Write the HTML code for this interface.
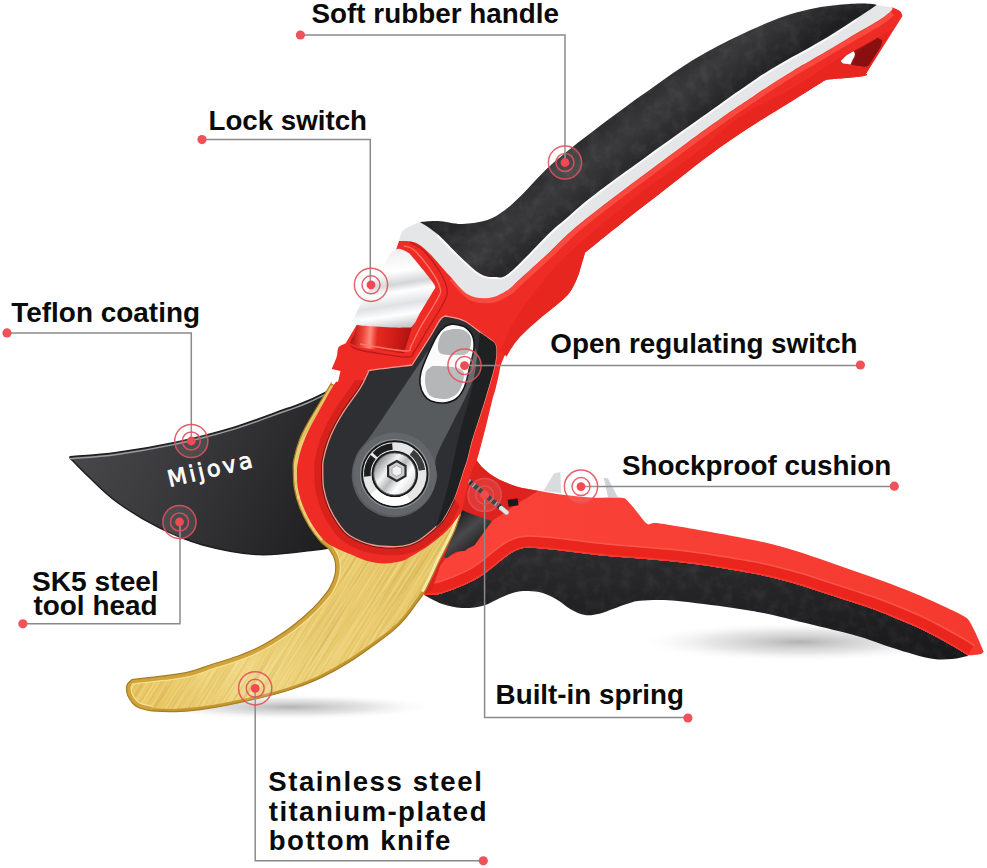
<!DOCTYPE html>
<html lang="en"><head><meta charset="utf-8"><title>Pruning shears features</title>
<style>
html,body{margin:0;padding:0;background:#fff}
body{width:987px;height:868px;overflow:hidden}
svg{display:block}
text{font-family:"Liberation Sans",Arial,sans-serif;font-weight:bold;fill:#0b0b0b}
text.logo{font-family:"DejaVu Sans","Liberation Sans",sans-serif;font-weight:normal;fill:#fff}
</style></head><body>
<svg width="987" height="868" viewBox="0 0 987 868">
<defs>
<radialGradient id="sh1" cx="50%" cy="50%" r="50%"><stop offset="0" stop-color="#9a9a9a" stop-opacity=".75"/><stop offset=".55" stop-color="#bdbdbd" stop-opacity=".38"/><stop offset="1" stop-color="#fff" stop-opacity="0"/></radialGradient>
<linearGradient id="gGold" x1="130" y1="700" x2="450" y2="520" gradientUnits="userSpaceOnUse"><stop offset="0" stop-color="#e9c660"/><stop offset=".3" stop-color="#f0d57e"/><stop offset=".6" stop-color="#ecce70"/><stop offset="1" stop-color="#e6c463"/></linearGradient>
<linearGradient id="gBlade" x1="80" y1="440" x2="330" y2="560" gradientUnits="userSpaceOnUse"><stop offset="0" stop-color="#48484a"/><stop offset=".35" stop-color="#3a3a3d"/><stop offset=".7" stop-color="#2a2a2d"/><stop offset="1" stop-color="#1d1d1f"/></linearGradient>
<linearGradient id="gRub" x1="560" y1="140" x2="612" y2="205" gradientUnits="userSpaceOnUse"><stop offset="0" stop-color="#262628"/><stop offset=".45" stop-color="#39393b"/><stop offset="1" stop-color="#1f1f21"/></linearGradient>
<linearGradient id="gWht" x1="640" y1="160" x2="652" y2="176" gradientUnits="userSpaceOnUse" spreadMethod="pad"><stop offset="0" stop-color="#f2f3f4"/><stop offset=".5" stop-color="#e3e5e7"/><stop offset="1" stop-color="#f0f0f1"/></linearGradient>
<linearGradient id="gLock" x1="380" y1="250" x2="392" y2="328" gradientUnits="userSpaceOnUse"><stop offset="0" stop-color="#ededee"/><stop offset=".3" stop-color="#ffffff"/><stop offset=".46" stop-color="#d4d5d7"/><stop offset=".56" stop-color="#ffffff"/><stop offset=".72" stop-color="#e0e1e3"/><stop offset=".85" stop-color="#ffffff"/><stop offset="1" stop-color="#c9cacc"/></linearGradient>
<linearGradient id="gTube" x1="352" y1="335" x2="412" y2="340" gradientUnits="userSpaceOnUse"><stop offset="0" stop-color="#b01512"/><stop offset=".18" stop-color="#f0453a"/><stop offset=".3" stop-color="#ff8a7a"/><stop offset=".42" stop-color="#e62a22"/><stop offset=".7" stop-color="#d01c18"/><stop offset="1" stop-color="#a81210"/></linearGradient>
<linearGradient id="gDisc" x1="378" y1="460" x2="414" y2="488" gradientUnits="userSpaceOnUse"><stop offset="0" stop-color="#8b8c8e"/><stop offset=".3" stop-color="#f4f4f4"/><stop offset=".5" stop-color="#b9babc"/><stop offset=".7" stop-color="#ffffff"/><stop offset="1" stop-color="#d6d6d6"/></linearGradient>
<linearGradient id="gRecess" x1="450" y1="515" x2="480" y2="550" gradientUnits="userSpaceOnUse"><stop offset="0" stop-color="#151516"/><stop offset=".5" stop-color="#4a4a4c"/><stop offset="1" stop-color="#1a1a1b"/></linearGradient>
<linearGradient id="gLFace" x1="500" y1="0" x2="980" y2="0" gradientUnits="userSpaceOnUse"><stop offset="0" stop-color="#fa4238"/><stop offset=".4" stop-color="#f83f35"/><stop offset="1" stop-color="#f5392f"/></linearGradient>
<linearGradient id="gLRub" x1="0" y1="560" x2="0" y2="660" gradientUnits="userSpaceOnUse"><stop offset="0" stop-color="#2a2a2c"/><stop offset="1" stop-color="#18181a"/></linearGradient>
<filter id="fBrush" x="0" y="0" width="100%" height="100%" color-interpolation-filters="sRGB"><feTurbulence type="fractalNoise" baseFrequency="0.012 0.55" numOctaves="2" seed="7" result="n"/><feColorMatrix in="n" type="matrix" values="0 0 0 0 1  0 0 0 0 .97  0 0 0 0 .78  1.6 0 0 0 -.62"/></filter>
<filter id="fBrushD" x="0" y="0" width="100%" height="100%" color-interpolation-filters="sRGB"><feTurbulence type="fractalNoise" baseFrequency="0.012 0.5" numOctaves="2" seed="21" result="n"/><feColorMatrix in="n" type="matrix" values="0 0 0 0 .66  0 0 0 0 .48  0 0 0 0 .12  1.6 0 0 0 -.66"/></filter>
<filter id="fRub" x="0" y="0" width="100%" height="100%" color-interpolation-filters="sRGB"><feTurbulence type="fractalNoise" baseFrequency="0.09" numOctaves="3" seed="4"/><feColorMatrix type="matrix" values="0 0 0 0 1  0 0 0 0 1  0 0 0 0 1  1.5 0 0 0 -.6"/></filter>
</defs>
<rect width="987" height="868" fill="#fff"/>
<ellipse cx="800" cy="642" rx="165" ry="20" fill="url(#sh1)"/>
<ellipse cx="290" cy="707" rx="150" ry="13" fill="url(#sh1)"/>
<path d="M423.8 594.8C426.8 594.6 433.4 595.7 441.5 593.4C449.6 591.1 464.8 584.7 472.5 581C480.2 577.3 483.4 574.3 488 571C492.6 567.7 495.6 564.5 500 561.2C504.4 557.9 509.5 553.5 514.2 551.3C518.9 549 521.3 547.9 528.4 547.7C535.5 547.5 547.3 549 556.7 549.9C566.1 550.8 575.6 552.3 585 553.4C594.4 554.5 603.8 555.6 613 556.5C622.3 557.4 631.2 557.9 640.4 558.6C649.7 559.4 659 560 668.4 561C677.8 561.9 687.3 563 696.7 564.3C706.1 565.6 715.8 567.1 724.8 568.5C733.8 570 742.7 571.5 750.7 573.1C758.7 574.6 764.8 575.9 772.8 577.8C780.8 579.8 789.7 582.2 798.6 584.8C807.6 587.4 817.6 590.9 826.3 593.7C835.1 596.5 843.9 599.4 851.1 601.8C858.4 604.2 863 605.6 869.8 608.1C876.5 610.5 884 613.3 891.6 616.4C899.2 619.5 907.7 623 915.5 626.6C923.3 630.2 931.3 634.3 938.4 638.1C945.5 641.9 953.3 646.4 958.2 649.3C963.1 652.2 966.4 654.4 968 655.4L968 656C965.3 656.5 957.7 658.5 952 659C946.3 659.5 940.2 659.8 933.9 659C927.6 658.2 921.1 656.3 914.1 654.4C907 652.5 898.8 649.9 891.4 647.5C884.1 645.1 876.5 642.1 869.8 639.9C863 637.6 858.4 636.2 851.1 634.2C843.9 632.3 835.1 630.2 826.3 628C817.6 625.9 807.6 623.5 798.6 621.4C789.7 619.2 780.8 616.8 772.8 615C764.8 613.2 758.7 612.1 750.7 610.7C742.7 609.4 733.8 608.1 724.8 606.8C715.8 605.6 706.1 604.4 696.7 603.3C687.3 602.2 677.9 600.7 668.4 600.3C658.9 599.9 646.8 600.2 640 600.8C633.2 601.4 632.1 602.5 627.7 603.8C623.3 605.1 618.2 607.1 613.5 608.7C608.8 610.4 604 612.7 599.3 613.7C594.5 614.8 589.7 615.7 585 615C580.3 614.3 575.7 612 571 609.4C566.3 606.8 561.4 602.2 556.7 599.5C552 596.8 547.3 594.4 542.6 593C537.9 591.6 533.1 591.1 528.4 591C523.7 590.9 518.9 591.2 514.2 592.4C509.5 593.6 505.2 595.8 500 598C494.8 600.2 489.3 604.1 483 605.8C476.7 607.5 468.9 608.4 462 608C455.1 607.6 447.9 605.9 441.5 603.7C435.1 601.5 426.8 596.3 423.8 594.8Z" fill="url(#gLRub)"/>
<clipPath id="cLb"><path d="M423.8 594.8C426.8 594.6 433.4 595.7 441.5 593.4C449.6 591.1 464.8 584.7 472.5 581C480.2 577.3 483.4 574.3 488 571C492.6 567.7 495.6 564.5 500 561.2C504.4 557.9 509.5 553.5 514.2 551.3C518.9 549 521.3 547.9 528.4 547.7C535.5 547.5 547.3 549 556.7 549.9C566.1 550.8 575.6 552.3 585 553.4C594.4 554.5 603.8 555.6 613 556.5C622.3 557.4 631.2 557.9 640.4 558.6C649.7 559.4 659 560 668.4 561C677.8 561.9 687.3 563 696.7 564.3C706.1 565.6 715.8 567.1 724.8 568.5C733.8 570 742.7 571.5 750.7 573.1C758.7 574.6 764.8 575.9 772.8 577.8C780.8 579.8 789.7 582.2 798.6 584.8C807.6 587.4 817.6 590.9 826.3 593.7C835.1 596.5 843.9 599.4 851.1 601.8C858.4 604.2 863 605.6 869.8 608.1C876.5 610.5 884 613.3 891.6 616.4C899.2 619.5 907.7 623 915.5 626.6C923.3 630.2 931.3 634.3 938.4 638.1C945.5 641.9 953.3 646.4 958.2 649.3C963.1 652.2 966.4 654.4 968 655.4L968 656C965.3 656.5 957.7 658.5 952 659C946.3 659.5 940.2 659.8 933.9 659C927.6 658.2 921.1 656.3 914.1 654.4C907 652.5 898.8 649.9 891.4 647.5C884.1 645.1 876.5 642.1 869.8 639.9C863 637.6 858.4 636.2 851.1 634.2C843.9 632.3 835.1 630.2 826.3 628C817.6 625.9 807.6 623.5 798.6 621.4C789.7 619.2 780.8 616.8 772.8 615C764.8 613.2 758.7 612.1 750.7 610.7C742.7 609.4 733.8 608.1 724.8 606.8C715.8 605.6 706.1 604.4 696.7 603.3C687.3 602.2 677.9 600.7 668.4 600.3C658.9 599.9 646.8 600.2 640 600.8C633.2 601.4 632.1 602.5 627.7 603.8C623.3 605.1 618.2 607.1 613.5 608.7C608.8 610.4 604 612.7 599.3 613.7C594.5 614.8 589.7 615.7 585 615C580.3 614.3 575.7 612 571 609.4C566.3 606.8 561.4 602.2 556.7 599.5C552 596.8 547.3 594.4 542.6 593C537.9 591.6 533.1 591.1 528.4 591C523.7 590.9 518.9 591.2 514.2 592.4C509.5 593.6 505.2 595.8 500 598C494.8 600.2 489.3 604.1 483 605.8C476.7 607.5 468.9 608.4 462 608C455.1 607.6 447.9 605.9 441.5 603.7C435.1 601.5 426.8 596.3 423.8 594.8Z"/></clipPath><g clip-path="url(#cLb)"><rect x="420" y="540" width="560" height="125" filter="url(#fRub)" opacity=".08"/></g>
<clipPath id="cLred"><path d="M476 459.4C476.9 460.6 479.3 464.3 481.6 466.7C483.9 469.1 487.1 471.9 490 474C492.9 476.1 495.7 477.9 499 479.6C502.3 481.3 506.5 482.9 510 484.2C513.5 485.5 514.8 486.4 520 487.6C525.2 488.8 534.2 490 541.3 491.2C548.4 492.4 554.3 493.6 562.6 494.7C570.9 495.8 582 497 591 497.5C600 498 610.8 497.4 616.5 497.5C622.2 497.6 623.6 498.2 625 498.3C626.4 499.8 630.2 503.6 633.5 507.5C636.8 511.4 642.2 518.9 644.8 521.7C647.4 524.5 648.3 524 649 524.5C650.8 524.3 650.2 522.3 660 523.5C669.8 524.7 693.3 529 707.7 531.5C722.2 534 736 536.6 746.7 538.7C757.5 540.8 763.8 542 772.4 544.2C781.1 546.3 789.6 549 798.6 551.8C807.7 554.7 817.3 558.1 826.7 561.3C836.1 564.5 845.5 567.8 855.1 571.2C864.7 574.6 874.5 578 884.2 581.6C894 585.3 904.5 589.3 913.7 593.1C923 596.9 931.4 600.7 939.8 604.6C948.2 608.5 959.2 613.5 964.3 616.5C969.4 619.5 969.3 621.6 970.3 622.6C971.3 624.6 974.2 629.9 976.4 634.7C978.6 639.6 982.5 648.9 983.7 651.7C983.1 652.1 982.6 653.6 980 654.2C977.4 654.8 970 655.2 968 655.4C966.4 654.4 963.1 652.2 958.2 649.3C953.3 646.4 945.5 641.9 938.4 638.1C931.3 634.3 923.3 630.2 915.5 626.6C907.7 623 899.2 619.5 891.6 616.4C884 613.3 876.5 610.5 869.8 608.1C863 605.6 858.4 604.2 851.1 601.8C843.9 599.4 835.1 596.5 826.3 593.7C817.6 590.9 807.6 587.4 798.6 584.8C789.7 582.2 780.8 579.8 772.8 577.8C764.8 575.9 758.7 574.6 750.7 573.1C742.7 571.5 733.8 570 724.8 568.5C715.8 567.1 706.1 565.6 696.7 564.3C687.3 563 677.8 561.9 668.4 561C659 560 649.7 559.4 640.4 558.6C631.2 557.9 622.3 557.4 613 556.5C603.8 555.6 594.4 554.5 585 553.4C575.6 552.3 566.1 550.8 556.7 549.9C547.3 549 535.5 547.5 528.4 547.7C521.3 547.9 518.9 549 514.2 551.3C509.5 553.5 504.4 557.9 500 561.2C495.6 564.5 492.6 567.7 488 571C483.4 574.3 480.2 577.3 472.5 581C464.8 584.7 449.6 591.1 441.5 593.4C433.4 595.7 426.8 594.6 423.8 594.8C426.5 589 434.8 575.8 440 560C445.2 544.2 450.8 516.7 455 500C459.2 483.3 463.3 466.7 465 460L476 459.4Z"/></clipPath>
<path d="M476 459.4C476.9 460.6 479.3 464.3 481.6 466.7C483.9 469.1 487.1 471.9 490 474C492.9 476.1 495.7 477.9 499 479.6C502.3 481.3 506.5 482.9 510 484.2C513.5 485.5 514.8 486.4 520 487.6C525.2 488.8 534.2 490 541.3 491.2C548.4 492.4 554.3 493.6 562.6 494.7C570.9 495.8 582 497 591 497.5C600 498 610.8 497.4 616.5 497.5C622.2 497.6 623.6 498.2 625 498.3C626.4 499.8 630.2 503.6 633.5 507.5C636.8 511.4 642.2 518.9 644.8 521.7C647.4 524.5 648.3 524 649 524.5C650.8 524.3 650.2 522.3 660 523.5C669.8 524.7 693.3 529 707.7 531.5C722.2 534 736 536.6 746.7 538.7C757.5 540.8 763.8 542 772.4 544.2C781.1 546.3 789.6 549 798.6 551.8C807.7 554.7 817.3 558.1 826.7 561.3C836.1 564.5 845.5 567.8 855.1 571.2C864.7 574.6 874.5 578 884.2 581.6C894 585.3 904.5 589.3 913.7 593.1C923 596.9 931.4 600.7 939.8 604.6C948.2 608.5 959.2 613.5 964.3 616.5C969.4 619.5 969.3 621.6 970.3 622.6C971.3 624.6 974.2 629.9 976.4 634.7C978.6 639.6 982.5 648.9 983.7 651.7C983.1 652.1 982.6 653.6 980 654.2C977.4 654.8 970 655.2 968 655.4C966.4 654.4 963.1 652.2 958.2 649.3C953.3 646.4 945.5 641.9 938.4 638.1C931.3 634.3 923.3 630.2 915.5 626.6C907.7 623 899.2 619.5 891.6 616.4C884 613.3 876.5 610.5 869.8 608.1C863 605.6 858.4 604.2 851.1 601.8C843.9 599.4 835.1 596.5 826.3 593.7C817.6 590.9 807.6 587.4 798.6 584.8C789.7 582.2 780.8 579.8 772.8 577.8C764.8 575.9 758.7 574.6 750.7 573.1C742.7 571.5 733.8 570 724.8 568.5C715.8 567.1 706.1 565.6 696.7 564.3C687.3 563 677.8 561.9 668.4 561C659 560 649.7 559.4 640.4 558.6C631.2 557.9 622.3 557.4 613 556.5C603.8 555.6 594.4 554.5 585 553.4C575.6 552.3 566.1 550.8 556.7 549.9C547.3 549 535.5 547.5 528.4 547.7C521.3 547.9 518.9 549 514.2 551.3C509.5 553.5 504.4 557.9 500 561.2C495.6 564.5 492.6 567.7 488 571C483.4 574.3 480.2 577.3 472.5 581C464.8 584.7 449.6 591.1 441.5 593.4C433.4 595.7 426.8 594.6 423.8 594.8C426.5 589 434.8 575.8 440 560C445.2 544.2 450.8 516.7 455 500C459.2 483.3 463.3 466.7 465 460L476 459.4Z" fill="url(#gLFace)"/>
<g clip-path="url(#cLred)"><path d="M968 655.4C966.4 654.4 963.1 652.2 958.2 649.3C953.3 646.4 945.5 641.9 938.4 638.1C931.3 634.3 923.3 630.2 915.5 626.6C907.7 623 899.2 619.5 891.6 616.4C884 613.3 876.5 610.5 869.8 608.1C863 605.6 858.4 604.2 851.1 601.8C843.9 599.4 835.1 596.5 826.3 593.7C817.6 590.9 807.6 587.4 798.6 584.8C789.7 582.2 780.8 579.8 772.8 577.8C764.8 575.9 758.7 574.6 750.7 573.1C742.7 571.5 733.8 570 724.8 568.5C715.8 567.1 706.1 565.6 696.7 564.3C687.3 563 677.8 561.9 668.4 561C659 560 649.7 559.4 640.4 558.6C631.2 557.9 622.3 557.4 613 556.5C603.8 555.6 594.4 554.5 585 553.4C575.6 552.3 566.1 550.8 556.7 549.9C547.3 549 535.5 547.5 528.4 547.7C521.3 547.9 518.9 549 514.2 551.3C509.5 553.5 504.4 557.9 500 561.2C495.6 564.5 492.6 567.7 488 571C483.4 574.3 480.2 577.3 472.5 581C464.8 584.7 449.6 591.1 441.5 593.4C433.4 595.7 426.8 594.6 423.8 594.8" fill="none" stroke="#f9564b" stroke-width="25"/><path d="M968 655.4C966.4 654.4 963.1 652.2 958.2 649.3C953.3 646.4 945.5 641.9 938.4 638.1C931.3 634.3 923.3 630.2 915.5 626.6C907.7 623 899.2 619.5 891.6 616.4C884 613.3 876.5 610.5 869.8 608.1C863 605.6 858.4 604.2 851.1 601.8C843.9 599.4 835.1 596.5 826.3 593.7C817.6 590.9 807.6 587.4 798.6 584.8C789.7 582.2 780.8 579.8 772.8 577.8C764.8 575.9 758.7 574.6 750.7 573.1C742.7 571.5 733.8 570 724.8 568.5C715.8 567.1 706.1 565.6 696.7 564.3C687.3 563 677.8 561.9 668.4 561C659 560 649.7 559.4 640.4 558.6C631.2 557.9 622.3 557.4 613 556.5C603.8 555.6 594.4 554.5 585 553.4C575.6 552.3 566.1 550.8 556.7 549.9C547.3 549 535.5 547.5 528.4 547.7C521.3 547.9 518.9 549 514.2 551.3C509.5 553.5 504.4 557.9 500 561.2C495.6 564.5 492.6 567.7 488 571C483.4 574.3 480.2 577.3 472.5 581C464.8 584.7 449.6 591.1 441.5 593.4C433.4 595.7 426.8 594.6 423.8 594.8" fill="none" stroke="#ea251d" stroke-width="22"/><path d="M968 655.4C966.4 654.4 963.1 652.2 958.2 649.3C953.3 646.4 945.5 641.9 938.4 638.1C931.3 634.3 923.3 630.2 915.5 626.6C907.7 623 899.2 619.5 891.6 616.4C884 613.3 876.5 610.5 869.8 608.1C863 605.6 858.4 604.2 851.1 601.8C843.9 599.4 835.1 596.5 826.3 593.7C817.6 590.9 807.6 587.4 798.6 584.8C789.7 582.2 780.8 579.8 772.8 577.8C764.8 575.9 758.7 574.6 750.7 573.1C742.7 571.5 733.8 570 724.8 568.5C715.8 567.1 706.1 565.6 696.7 564.3C687.3 563 677.8 561.9 668.4 561C659 560 649.7 559.4 640.4 558.6C631.2 557.9 622.3 557.4 613 556.5C603.8 555.6 594.4 554.5 585 553.4C575.6 552.3 566.1 550.8 556.7 549.9C547.3 549 535.5 547.5 528.4 547.7C521.3 547.9 518.9 549 514.2 551.3C509.5 553.5 504.4 557.9 500 561.2C495.6 564.5 492.6 567.7 488 571C483.4 574.3 480.2 577.3 472.5 581C464.8 584.7 449.6 591.1 441.5 593.4C433.4 595.7 426.8 594.6 423.8 594.8" fill="none" stroke="#f43a30" stroke-width="3"/></g>
<path d="M465 460L476 459.4L481.6 466.7L490 474L499 479.6L510 484.2L520 487.6L538 491L520 502L492 521L470 546L446 558L440 566L432 590L423.8 594.8L440 560L455 500Z" fill="#dd231d"/>
<path d="M459 514L462.5 510.3L469 513L483.7 518.6L492 521L474.5 545.3L467 549L465.3 550.8L456 551.8L451.5 554.5L446.9 558.2L444 557L454.2 531.5Z" fill="url(#gRecess)"/>
<line x1="470" y1="482" x2="506.5" y2="512.5" stroke="#9a9c9f" stroke-width="5" stroke-linecap="round"/>
<line x1="470" y1="482" x2="500" y2="507" stroke="#2f3032" stroke-width="5" stroke-dasharray="4.2 1.6"/>
<line x1="501" y1="508" x2="506.5" y2="512.5" stroke="#e4e5e6" stroke-width="4" stroke-linecap="round"/>
<rect x="508" y="499" width="10" height="7" fill="#1a1a1b" transform="rotate(-8 513 502)"/>
<path d="M543.4 491L554 473.4L560.4 472L561 493Z" fill="#d9dcde"/><path d="M603.7 477.7L608 478.4L617.9 497.5L608 497Z" fill="#d0d3d5"/>
<path d="M70 456.7C77.8 456 99.5 454.9 116.7 452.5C133.9 450.1 154.6 446.6 173.5 442.6C192.4 438.6 211.1 434.1 230 428.4C248.9 422.7 273.7 413.2 287 408.5C300.3 403.8 300.8 403.9 309.6 400C318.4 396.1 334.9 387.5 340 385L400 470L360 545C355.3 545.4 339.5 546.7 332 547.5C324.5 548.3 327.2 548.8 315 550C302.8 551.2 277.5 555.5 258.6 554.6C239.7 553.7 218.4 549.2 201.8 544.7C185.2 540.2 173.2 534.8 159 527.7C144.8 520.6 128.5 510.5 116.7 502C104.9 493.5 96.2 483.9 88.4 476.6C80.6 469.3 73.1 461.1 70 458Z" fill="url(#gBlade)" stroke="#1c1c1d" stroke-width="1.4" stroke-linejoin="round"/>
<path d="M70 456.7C77.8 456 99.5 454.9 116.7 452.5C133.9 450.1 154.6 446.6 173.5 442.6C192.4 438.6 211.1 434.1 230 428.4C248.9 422.7 273.7 413.2 287 408.5C300.3 403.8 300.8 403.9 309.6 400C318.4 396.1 334.9 387.5 340 385" fill="none" stroke="#9a9c9f" stroke-width="1.4" transform="translate(0,2)"/>
<clipPath id="cGold"><path d="M132 679.5C137.3 678.9 154.3 677.1 163.6 675.9C172.9 674.7 179.9 674.1 188 672.2C196.1 670.3 204.5 666.8 212.3 664.3C220.1 661.8 227.4 659.8 235 657C242.6 654.2 249.3 652.1 257.7 647.8C266.1 643.5 277.2 636.7 285.3 631.2C293.4 625.7 300.2 619.8 306 614.7C311.8 609.6 316 605.2 319.9 600.8C323.8 596.4 327 592.8 329.5 588.4C332 584 334.1 579.2 335 574.6C335.9 570 335.9 564.9 335 560.7C334.1 556.6 331.9 552.9 329.5 549.7C327.1 546.5 323.9 545.4 320.5 541.5C317.1 537.6 312.7 532.1 309.3 526.5C305.9 520.9 302.5 514.2 300 508C297.5 501.8 295.6 495.3 294.5 489C293.4 482.7 293.4 474.8 293.3 470C293.2 465.2 292.8 465 293.8 460C294.8 455 297.1 446.1 299.4 440C301.7 433.9 304.2 429.5 307.6 423.3C311 417.1 315.7 409.6 319.6 403C323.5 396.4 329.1 386.9 331 383.7L331 384L470 450L460 516.7L460.2 514.9C459.2 517.7 456.7 525.6 454.2 531.5C451.7 537.4 447.5 545 445 550C442.5 555 441.2 557.1 439.1 561.5C437 565.9 434.7 571.3 432.2 576.5C429.7 581.7 426.8 588 424.1 592.6C421.4 597.2 419.2 599.6 416 604C412.8 608.4 408.4 614.6 404.6 619C400.8 623.4 397.6 626.6 393 630.6C388.4 634.6 384.1 637.6 376.8 642.9C369.5 648.2 358.2 656.5 349 662.2C339.8 668 330.7 673 321.5 677.4C312.3 681.8 303.4 685.2 293.8 688.5C284.2 691.8 275.4 694.2 264 697C252.6 699.8 236.2 703.4 225.5 705.5C214.8 707.6 208.3 708.6 200 709.6C191.7 710.6 183.9 711.4 175.8 711.6C167.7 711.8 155.6 711.1 151.5 711C149.5 710.5 142.6 709.2 139.5 708C136.4 706.8 134.9 705.5 133 703.5C131.1 701.5 129.1 698.4 128 696C126.9 693.6 126.6 691 126.5 689C126.4 687 126.6 685.6 127.5 684C128.4 682.4 131.2 680.2 132 679.5Z"/></clipPath>
<path d="M132 679.5C137.3 678.9 154.3 677.1 163.6 675.9C172.9 674.7 179.9 674.1 188 672.2C196.1 670.3 204.5 666.8 212.3 664.3C220.1 661.8 227.4 659.8 235 657C242.6 654.2 249.3 652.1 257.7 647.8C266.1 643.5 277.2 636.7 285.3 631.2C293.4 625.7 300.2 619.8 306 614.7C311.8 609.6 316 605.2 319.9 600.8C323.8 596.4 327 592.8 329.5 588.4C332 584 334.1 579.2 335 574.6C335.9 570 335.9 564.9 335 560.7C334.1 556.6 331.9 552.9 329.5 549.7C327.1 546.5 323.9 545.4 320.5 541.5C317.1 537.6 312.7 532.1 309.3 526.5C305.9 520.9 302.5 514.2 300 508C297.5 501.8 295.6 495.3 294.5 489C293.4 482.7 293.4 474.8 293.3 470C293.2 465.2 292.8 465 293.8 460C294.8 455 297.1 446.1 299.4 440C301.7 433.9 304.2 429.5 307.6 423.3C311 417.1 315.7 409.6 319.6 403C323.5 396.4 329.1 386.9 331 383.7L331 384L470 450L460 516.7L460.2 514.9C459.2 517.7 456.7 525.6 454.2 531.5C451.7 537.4 447.5 545 445 550C442.5 555 441.2 557.1 439.1 561.5C437 565.9 434.7 571.3 432.2 576.5C429.7 581.7 426.8 588 424.1 592.6C421.4 597.2 419.2 599.6 416 604C412.8 608.4 408.4 614.6 404.6 619C400.8 623.4 397.6 626.6 393 630.6C388.4 634.6 384.1 637.6 376.8 642.9C369.5 648.2 358.2 656.5 349 662.2C339.8 668 330.7 673 321.5 677.4C312.3 681.8 303.4 685.2 293.8 688.5C284.2 691.8 275.4 694.2 264 697C252.6 699.8 236.2 703.4 225.5 705.5C214.8 707.6 208.3 708.6 200 709.6C191.7 710.6 183.9 711.4 175.8 711.6C167.7 711.8 155.6 711.1 151.5 711C149.5 710.5 142.6 709.2 139.5 708C136.4 706.8 134.9 705.5 133 703.5C131.1 701.5 129.1 698.4 128 696C126.9 693.6 126.6 691 126.5 689C126.4 687 126.6 685.6 127.5 684C128.4 682.4 131.2 680.2 132 679.5Z" fill="url(#gGold)"/>
<g clip-path="url(#cGold)"><g transform="rotate(-58 300 600)"><rect x="40" y="330" width="520" height="520" filter="url(#fBrush)" opacity=".55"/><rect x="40" y="330" width="520" height="520" filter="url(#fBrushD)" opacity=".4"/></g></g>
<g clip-path="url(#cGold)"><path d="M151.5 711C149.5 710.5 142.6 709.2 139.5 708C136.4 706.8 134.9 705.5 133 703.5C131.1 701.5 129.1 698.4 128 696C126.9 693.6 126.6 691 126.5 689C126.4 687 126.6 685.6 127.5 684C128.4 682.4 126 680.9 132 679.5C138 678.1 154.3 677.1 163.6 675.9C172.9 674.7 179.9 674.1 188 672.2C196.1 670.3 204.5 666.8 212.3 664.3C220.1 661.8 227.4 659.8 235 657C242.6 654.2 249.3 652.1 257.7 647.8C266.1 643.5 277.2 636.7 285.3 631.2C293.4 625.7 300.2 619.8 306 614.7C311.8 609.6 316 605.2 319.9 600.8C323.8 596.4 327 592.8 329.5 588.4C332 584 334.1 579.2 335 574.6C335.9 570 335.9 564.9 335 560.7C334.1 556.6 331.9 552.9 329.5 549.7C327.1 546.5 322 542.9 320.5 541.5" fill="none" stroke="#f5e08e" stroke-width="10.5"/><path d="M151.5 711C149.5 710.5 142.6 709.2 139.5 708C136.4 706.8 134.9 705.5 133 703.5C131.1 701.5 129.1 698.4 128 696C126.9 693.6 126.6 691 126.5 689C126.4 687 126.6 685.6 127.5 684C128.4 682.4 126 680.9 132 679.5C138 678.1 154.3 677.1 163.6 675.9C172.9 674.7 179.9 674.1 188 672.2C196.1 670.3 204.5 666.8 212.3 664.3C220.1 661.8 227.4 659.8 235 657C242.6 654.2 249.3 652.1 257.7 647.8C266.1 643.5 277.2 636.7 285.3 631.2C293.4 625.7 300.2 619.8 306 614.7C311.8 609.6 316 605.2 319.9 600.8C323.8 596.4 327 592.8 329.5 588.4C332 584 334.1 579.2 335 574.6C335.9 570 335.9 564.9 335 560.7C334.1 556.6 331.9 552.9 329.5 549.7C327.1 546.5 322 542.9 320.5 541.5" fill="none" stroke="#cfa23a" stroke-width="8"/><path d="M151.5 711C155.6 711.1 167.7 711.8 175.8 711.6C183.9 711.4 191.7 710.6 200 709.6C208.3 708.6 214.8 707.6 225.5 705.5C236.2 703.4 252.6 699.8 264 697C275.4 694.2 284.2 691.8 293.8 688.5C303.4 685.2 312.3 681.8 321.5 677.4C330.7 673 339.8 668 349 662.2C358.2 656.5 369.5 648.2 376.8 642.9C384.1 637.6 388.4 634.6 393 630.6C397.6 626.6 400.8 623.4 404.6 619C408.4 614.6 412.8 608.4 416 604C419.2 599.6 421.4 597.2 424.1 592.6C426.8 588 429.7 581.7 432.2 576.5C434.7 571.3 437 565.9 439.1 561.5C441.2 557.1 442.5 555 445 550C447.5 545 451.7 537.4 454.2 531.5C456.7 525.6 459.2 517.7 460.2 514.9" fill="none" stroke="#c4962f" stroke-width="5.5"/><path d="M424.1 592.6L432.2 576.5L439.1 561.5L445 550L454.2 531.5L460.2 514.9" fill="none" stroke="#f7e7a4" stroke-width="7"/></g>
<path d="M132 679.5C137.3 678.9 154.3 677.1 163.6 675.9C172.9 674.7 179.9 674.1 188 672.2C196.1 670.3 204.5 666.8 212.3 664.3C220.1 661.8 227.4 659.8 235 657C242.6 654.2 249.3 652.1 257.7 647.8C266.1 643.5 277.2 636.7 285.3 631.2C293.4 625.7 300.2 619.8 306 614.7C311.8 609.6 316 605.2 319.9 600.8C323.8 596.4 327 592.8 329.5 588.4C332 584 334.1 579.2 335 574.6C335.9 570 335.9 564.9 335 560.7C334.1 556.6 331.9 552.9 329.5 549.7C327.1 546.5 323.9 545.4 320.5 541.5C317.1 537.6 312.7 532.1 309.3 526.5C305.9 520.9 302.5 514.2 300 508C297.5 501.8 295.6 495.3 294.5 489C293.4 482.7 293.4 474.8 293.3 470C293.2 465.2 292.8 465 293.8 460C294.8 455 297.1 446.1 299.4 440C301.7 433.9 304.2 429.5 307.6 423.3C311 417.1 315.7 409.6 319.6 403C323.5 396.4 329.1 386.9 331 383.7L331 384L470 450L460 516.7L460.2 514.9C459.2 517.7 456.7 525.6 454.2 531.5C451.7 537.4 447.5 545 445 550C442.5 555 441.2 557.1 439.1 561.5C437 565.9 434.7 571.3 432.2 576.5C429.7 581.7 426.8 588 424.1 592.6C421.4 597.2 419.2 599.6 416 604C412.8 608.4 408.4 614.6 404.6 619C400.8 623.4 397.6 626.6 393 630.6C388.4 634.6 384.1 637.6 376.8 642.9C369.5 648.2 358.2 656.5 349 662.2C339.8 668 330.7 673 321.5 677.4C312.3 681.8 303.4 685.2 293.8 688.5C284.2 691.8 275.4 694.2 264 697C252.6 699.8 236.2 703.4 225.5 705.5C214.8 707.6 208.3 708.6 200 709.6C191.7 710.6 183.9 711.4 175.8 711.6C167.7 711.8 155.6 711.1 151.5 711C149.5 710.5 142.6 709.2 139.5 708C136.4 706.8 134.9 705.5 133 703.5C131.1 701.5 129.1 698.4 128 696C126.9 693.6 126.6 691 126.5 689C126.4 687 126.6 685.6 127.5 684C128.4 682.4 131.2 680.2 132 679.5Z" fill="none" stroke="#a67d25" stroke-width="1.2"/>
<path d="M399 241C401.7 240.8 408.2 241 415 240C421.8 239 425.8 239.2 440 235C454.2 230.8 473.3 230.8 500 215C526.7 199.2 566.7 160.8 600 140C633.3 119.2 666.7 106.7 700 90C733.3 73.3 767.9 53.8 800 40C832.1 26.2 877.1 12.9 892.5 7.5C893.8 8.1 898.3 9.6 900 11C901.7 12.4 902.1 15.2 902.5 16L866 73.7C865.6 74.1 870 75 863.8 76C857.6 77 834.8 78.9 829 79.5C827.8 80 828.4 78.4 822 82.2C815.6 86 800.6 95.7 790.4 102.1C780.3 108.4 770.1 114.4 761.1 120.1C752 125.8 744.2 130.8 736.2 136.3C728.1 141.7 720.9 146.8 712.8 152.7C704.8 158.5 697.2 164.3 688.1 171.4C678.9 178.4 668.9 186.4 658 194.9C647.1 203.4 634.7 212.8 622.5 222.4C610.3 232.1 591.2 247.6 585 252.6C584.4 254.7 582.8 260.6 581.4 265C580 269.4 579.1 274 576.8 279C574.5 284 572.4 289.5 567.6 295C562.8 300.5 554.9 306.6 548 312C541.1 317.4 531.5 322.8 526 327.5C520.5 332.2 518.3 336.6 515.3 340.3C512.3 344 509.9 346.4 507.9 349.5C505.9 352.6 504.5 355.9 503.3 358.7C502.1 361.4 501.4 363.2 500.6 366C499.8 368.8 499.6 371.5 498.7 375.3C497.8 379.1 496.6 384.9 495.5 389C494.4 393.1 493.6 394.8 492.3 400C491 405.2 489.1 413.3 487.5 420C485.9 426.7 484.2 433.3 482.4 440C480.6 446.7 478.7 454.7 476.9 460C475.1 465.3 473.2 467 471.5 472C469.8 477 467.8 484.7 466.5 490C465.2 495.3 464.6 499.8 463.5 503.8C462.4 507.8 462.6 509.5 459.8 514C457 518.5 452.1 525.3 446.9 530.6C441.7 535.9 434.5 541.4 428.4 545.8C422.2 550.2 414.4 554.5 410 557C405.6 559.5 406 559.9 401.8 561C397.6 562.1 390.4 563.4 384.6 563.4C378.9 563.4 373.1 562.6 367.3 561C361.5 559.4 355.4 556.2 350 554C344.6 551.8 339.4 549.8 335 547.5C330.6 545.2 327.4 543.7 323.7 540C320 536.3 316 530.8 312.6 525.3C309.2 519.8 305.8 513 303.4 506.9C300.9 500.8 299 494.5 297.9 488.4C296.8 482.2 296.9 474.7 297 470C297.1 465.3 297.7 463.5 298.4 460C299.1 456.5 299.7 453.6 301.2 449C302.7 444.4 305 438.2 307.6 432.5C310.2 426.8 313.8 420.7 316.9 415C320 409.3 322.9 403.8 326 398.4C329.1 393 333.3 385.5 335.3 382.8C337.3 380.1 337.6 382.1 338 382L340.5 371L331.7 369C332.5 367 335.5 360.6 336.6 357C337.8 353.4 337.1 349.6 338.6 347.3C340.1 345 344.4 344 345.5 343.4L356 326L394 256L399 241Z" fill="#ee2b24"/>
<path d="M892 30C883.3 34.7 857 48 840 58C823 68 806.7 80.2 790 90C773.3 99.8 755 107 740 117C725 127 715 138.5 700 150C685 161.5 665.8 174 650 186C634.2 198 620 209.3 605 222C590 234.7 571.7 250.3 560 262C548.3 273.7 542.3 282.7 535 292C527.7 301.3 521.8 308.3 516 318C510.2 327.7 502.7 344.7 500 350L506.5 356.5C508.8 353.2 512.8 344.8 520 337C527.2 329.2 542.1 317 550 310C557.9 303 563.1 300.2 567.6 295C572.1 289.8 574.5 284 576.8 279C579.1 274 580 269.4 581.4 265C582.8 260.6 584.4 254.7 585 252.6C591.2 247.6 610.3 232.1 622.5 222.4C634.7 212.8 647.1 203.4 658 194.9C668.9 186.4 678.9 178.4 688.1 171.4C697.2 164.3 704.8 158.5 712.8 152.7C720.9 146.8 728.1 141.7 736.2 136.3C744.2 130.8 752 125.8 761.1 120.1C770.1 114.4 780.3 108.4 790.4 102.1C800.6 95.7 815.6 86 822 82.2C828.4 78.4 827.8 80 829 79.5C834.8 78.9 857.6 77 863.8 76C870 75 865.6 74.1 866 73.7L892 30Z" fill="#e6261f"/>
<path d="M891 11C889.2 12.4 885.7 15.8 880 19.5C874.3 23.2 864.7 28.5 856.9 33.1C849.1 37.7 840.8 42.8 833.3 47.2C825.8 51.6 818.4 55.9 811.8 59.8C805.2 63.7 800.6 66 793.5 70.4C786.3 74.7 776.4 80.9 769 85.7C761.5 90.6 755.8 94.6 748.9 99.3C742.1 103.9 736.4 107.5 727.7 113.6C719.1 119.6 709.6 126.3 696.9 135.5C684.3 144.7 666.7 157.8 652 168.7C637.2 179.7 621.7 191.1 608.5 201.2C595.4 211.4 582.8 221.1 573 229.5C563.2 237.9 558.8 243.2 550 251.5C541.2 259.8 527.2 272.5 520 279C512.8 285.5 512.2 287.3 507 290.5C501.8 293.7 495.5 297.3 489 298C482.5 298.7 474.5 298.2 468 294.5C461.5 290.8 452.8 279.1 449.8 276" fill="none" stroke="#fa4a3f" stroke-width="5" transform="translate(1.5,2.5)"/>
<path d="M420 222C422.9 221.8 430.4 220.7 437.5 221C444.6 221.3 454.2 224.2 462.5 224C470.8 223.8 480.4 222.3 487.5 220C494.6 217.7 499.1 214.4 505 210C510.9 205.6 516.2 200.4 523 193.7C529.8 186.9 539.1 176.2 546 169.5C552.9 162.8 558.5 158.3 564.5 153.4C570.5 148.5 575.3 144.9 581.8 139.8C588.3 134.8 595.4 129.3 603.4 123.3C611.4 117.3 621.9 109.6 629.9 103.8C637.9 98 644.2 93.7 651.4 88.6C658.6 83.4 665.7 78.1 673.2 73.1C680.6 68 688.4 62.9 696 58.3C703.5 53.8 711.2 49.6 718.5 45.7C725.8 41.9 732.7 38.6 739.8 35.2C746.9 31.8 753.6 28.6 761.1 25.4C768.5 22.2 776.5 18.8 784.4 16.2C792.3 13.5 800.5 11.2 808.6 9.4C816.7 7.7 824.9 6.5 833 5.6C841.1 4.6 850.8 3.9 857.3 3.6C863.8 3.3 868.8 3.7 872 3.9C875.2 4.1 875.9 4.7 876.7 4.9L892.5 7.5C892.2 8.1 893.1 9 891 11C888.9 13 885.7 15.8 880 19.5C874.3 23.2 864.7 28.5 856.9 33.1C849.1 37.7 840.8 42.8 833.3 47.2C825.8 51.6 818.4 55.9 811.8 59.8C805.2 63.7 800.6 66 793.5 70.4C786.3 74.7 776.4 80.9 769 85.7C761.5 90.6 755.8 94.6 748.9 99.3C742.1 103.9 736.4 107.5 727.7 113.6C719.1 119.6 709.6 126.3 696.9 135.5C684.3 144.7 666.7 157.8 652 168.7C637.2 179.7 621.7 191.1 608.5 201.2C595.4 211.4 582.8 221.1 573 229.5C563.2 237.9 558.8 243.2 550 251.5C541.2 259.8 527.2 272.5 520 279C512.8 285.5 512.2 287.3 507 290.5C501.8 293.7 495.5 297.3 489 298C482.5 298.7 474.5 298.2 468 294.5C461.5 290.8 456.3 282.9 449.8 276C443.3 269.1 434.8 258.6 429 253C423.2 247.4 420 244.6 415 242.6C410 240.6 401.7 241.3 399 241C399.8 239.2 400.2 233.2 403.7 230C407.2 226.8 417.3 223.3 420 222Z" fill="#e4e6e8"/>
<path d="M856 18.8C852.2 21.3 840.8 28.8 832.9 33.7C825 38.6 816.6 43.5 808.7 48C800.8 52.5 792.7 56.6 785.6 60.7C778.4 64.8 772 68.5 765.9 72.4C759.7 76.3 754.8 79.9 748.7 84.1C742.6 88.3 736.2 92.6 729.2 97.4C722.3 102.3 715 107.6 706.9 113.4C698.8 119.1 690.7 124.8 680.6 132.1C670.5 139.3 658.4 147.9 646.2 156.7C634.1 165.5 618.2 176.8 607.5 184.8C596.8 192.8 589.3 198.6 582.1 204.5C575 210.4 569.9 215.3 564.5 220C559.1 224.7 559.1 223.8 550 232.5C540.9 241.2 519.2 265.1 510 272.5C500.8 279.9 500 276.8 495 277C490 277.2 485.7 276.9 480 273.7C474.3 270.5 468 264.1 461 257.6C454 251.1 441.8 238.4 438 234.6" fill="none" stroke="#fafafa" stroke-width="4"/>
<path d="M420 222C422.9 221.8 430.4 220.7 437.5 221C444.6 221.3 454.2 224.2 462.5 224C470.8 223.8 480.4 222.3 487.5 220C494.6 217.7 499.1 214.4 505 210C510.9 205.6 516.2 200.4 523 193.7C529.8 186.9 539.1 176.2 546 169.5C552.9 162.8 558.5 158.3 564.5 153.4C570.5 148.5 575.3 144.9 581.8 139.8C588.3 134.8 595.4 129.3 603.4 123.3C611.4 117.3 621.9 109.6 629.9 103.8C637.9 98 644.2 93.7 651.4 88.6C658.6 83.4 665.7 78.1 673.2 73.1C680.6 68 688.4 62.9 696 58.3C703.5 53.8 711.2 49.6 718.5 45.7C725.8 41.9 732.7 38.6 739.8 35.2C746.9 31.8 753.6 28.6 761.1 25.4C768.5 22.2 776.5 18.8 784.4 16.2C792.3 13.5 800.5 11.2 808.6 9.4C816.7 7.7 824.9 6.5 833 5.6C841.1 4.6 850.8 3.9 857.3 3.6C863.8 3.3 868.8 3.7 872 3.9C875.2 4.1 875.9 4.7 876.7 4.9C873.3 7.2 863.4 14 856 18.8C848.7 23.6 840.8 28.8 832.9 33.7C825 38.6 816.6 43.5 808.7 48C800.8 52.5 792.7 56.6 785.6 60.7C778.4 64.8 772 68.5 765.9 72.4C759.7 76.3 754.8 79.9 748.7 84.1C742.6 88.3 736.2 92.6 729.2 97.4C722.3 102.3 715 107.6 706.9 113.4C698.8 119.1 690.7 124.8 680.6 132.1C670.5 139.3 658.4 147.9 646.2 156.7C634.1 165.5 618.2 176.8 607.5 184.8C596.8 192.8 589.3 198.6 582.1 204.5C575 210.4 569.9 215.3 564.5 220C559.1 224.7 559.1 223.8 550 232.5C540.9 241.2 519.2 265.1 510 272.5C500.8 279.9 500 276.8 495 277C490 277.2 485.7 276.9 480 273.7C474.3 270.5 468 264.1 461 257.6C454 251.1 444.8 240.5 438 234.6C431.2 228.7 423 224.1 420 222Z" fill="url(#gRub)"/>
<clipPath id="cUb"><path d="M420 222C422.9 221.8 430.4 220.7 437.5 221C444.6 221.3 454.2 224.2 462.5 224C470.8 223.8 480.4 222.3 487.5 220C494.6 217.7 499.1 214.4 505 210C510.9 205.6 516.2 200.4 523 193.7C529.8 186.9 539.1 176.2 546 169.5C552.9 162.8 558.5 158.3 564.5 153.4C570.5 148.5 575.3 144.9 581.8 139.8C588.3 134.8 595.4 129.3 603.4 123.3C611.4 117.3 621.9 109.6 629.9 103.8C637.9 98 644.2 93.7 651.4 88.6C658.6 83.4 665.7 78.1 673.2 73.1C680.6 68 688.4 62.9 696 58.3C703.5 53.8 711.2 49.6 718.5 45.7C725.8 41.9 732.7 38.6 739.8 35.2C746.9 31.8 753.6 28.6 761.1 25.4C768.5 22.2 776.5 18.8 784.4 16.2C792.3 13.5 800.5 11.2 808.6 9.4C816.7 7.7 824.9 6.5 833 5.6C841.1 4.6 850.8 3.9 857.3 3.6C863.8 3.3 868.8 3.7 872 3.9C875.2 4.1 875.9 4.7 876.7 4.9C873.3 7.2 863.4 14 856 18.8C848.7 23.6 840.8 28.8 832.9 33.7C825 38.6 816.6 43.5 808.7 48C800.8 52.5 792.7 56.6 785.6 60.7C778.4 64.8 772 68.5 765.9 72.4C759.7 76.3 754.8 79.9 748.7 84.1C742.6 88.3 736.2 92.6 729.2 97.4C722.3 102.3 715 107.6 706.9 113.4C698.8 119.1 690.7 124.8 680.6 132.1C670.5 139.3 658.4 147.9 646.2 156.7C634.1 165.5 618.2 176.8 607.5 184.8C596.8 192.8 589.3 198.6 582.1 204.5C575 210.4 569.9 215.3 564.5 220C559.1 224.7 559.1 223.8 550 232.5C540.9 241.2 519.2 265.1 510 272.5C500.8 279.9 500 276.8 495 277C490 277.2 485.7 276.9 480 273.7C474.3 270.5 468 264.1 461 257.6C454 251.1 444.8 240.5 438 234.6C431.2 228.7 423 224.1 420 222Z"/></clipPath><g clip-path="url(#cUb)"><rect x="410" y="0" width="480" height="285" filter="url(#fRub)" opacity=".09"/></g>
<path d="M358 325L412 327L404 353.5L359 347.3L350 343Z" fill="url(#gTube)"/>
<path d="M410 242C412.3 243.5 419 246 424 251C429 256 436.2 265.7 440 272C443.8 278.3 446.3 284 447 289C447.7 294 447.5 294.8 444 302C440.5 309.2 431 323.7 426 332C421 340.3 417.3 347.8 414 352C410.7 356.2 414.7 357.2 406 357C397.3 356.8 371.3 352.4 362 350.5C352.7 348.6 352 346.3 350 345.5" fill="none" stroke="#b3171a" stroke-width="1.3" stroke-opacity=".85"/>
<path d="M404 246C405.7 246.7 409.3 245.7 414 250C418.7 254.3 427.7 265.7 432 272C436.3 278.3 439 283.7 440 288C441 292.3 441.3 291.3 438 298C434.7 304.7 424.5 320 420 328C415.5 336 413.5 342.2 411 346C408.5 349.8 413.5 351.3 405 351C396.5 350.7 367.5 345.2 360 344" fill="none" stroke="#ff7a6a" stroke-width="1.4" stroke-opacity=".9"/>
<path d="M391 252.3C392.3 251.7 395.9 248.6 399 248.8C402.1 249 407.8 252.6 409.5 253.4C412.2 256.7 421.4 267.6 425.6 273C429.8 278.4 433.5 282.8 434.9 285.7C436.2 288.6 433.9 289.5 433.7 290.3C431.2 294.5 421.7 310.3 418.7 315.6C415.7 320.9 416.8 320 415.5 322C414.2 324 411.8 326.6 411 327.5C407.7 327.5 399.1 327.8 391 327.5C382.9 327.2 367.1 326.1 362.3 325.8C361.2 325.6 357.4 325.4 356 324.3C354.6 323.2 354 320.3 353.6 319.5L360 305.3C363.8 298.8 377.8 274.8 383 266C388.2 257.2 389.7 254.6 391 252.3Z" fill="url(#gLock)"/>
<clipPath id="cBand"><path d="M280 380H440V480L470 520V580H280Z"/></clipPath><g clip-path="url(#cBand)"><path d="M445 316C448.2 316.8 458.2 317.9 464.5 321C470.8 324.1 479.9 332.4 483 334.7C484.4 335.6 489.2 338.6 491.3 340.3C493.4 342 494.6 342.9 495.5 344.9C496.4 346.9 496.4 349.5 496.4 352.3C496.4 355.1 496 358.3 495.5 361.5C495 364.7 494.2 367.8 493.2 371.6C492.2 375.4 490.9 379.8 489.5 384.5C488.1 389.2 486.7 394.1 484.9 400C483.1 405.9 480.6 413.3 478.5 420C476.4 426.7 473.9 433.3 472 440C470.1 446.7 468.4 455 467 460C465.6 465 465.4 464.7 463.6 470C461.9 475.3 458.5 486.4 456.5 492C454.5 497.6 453.9 499.1 451.5 503.8C449.1 508.5 446.2 515.5 442.3 520.4C438.4 525.3 432.3 530 428.4 533.3C424.5 536.6 422.1 538.4 419 540.3C415.9 542.1 413.8 543.3 410 544.4C406.2 545.5 402.2 546.6 396 546.7C389.8 546.8 380.7 546.8 373 545C365.3 543.2 355.8 539.3 350 535.7C344.2 532.1 342 528.3 338.5 523.5C335 518.7 331.7 512.8 329.2 506.9C326.7 501 324.8 494.5 323.7 488.4C322.6 482.2 322.9 474.7 322.8 470C322.7 465.3 322.4 464.6 323.3 460C324.2 455.4 326 448.4 328 442.7C330 437 332.6 431.4 335.3 426C338.1 420.6 340.4 416.7 344.5 410.4C348.6 404.1 356.4 393.9 360 388.3C363.6 382.7 364.6 379.8 366 377C367.4 374.2 368.1 372.4 368.5 371.5C369.2 371.2 365.6 370.9 372.9 369.8C380.1 368.7 405.5 365.8 412 365C414.9 360.4 424.9 345 429.6 337.5C434.3 330 437.4 323.6 440 320C442.6 316.4 444.2 316.7 445 316Z" fill="none" stroke="#c91a15" stroke-opacity=".55" stroke-width="17"/><path d="M445 316C448.2 316.8 458.2 317.9 464.5 321C470.8 324.1 479.9 332.4 483 334.7C484.4 335.6 489.2 338.6 491.3 340.3C493.4 342 494.6 342.9 495.5 344.9C496.4 346.9 496.4 349.5 496.4 352.3C496.4 355.1 496 358.3 495.5 361.5C495 364.7 494.2 367.8 493.2 371.6C492.2 375.4 490.9 379.8 489.5 384.5C488.1 389.2 486.7 394.1 484.9 400C483.1 405.9 480.6 413.3 478.5 420C476.4 426.7 473.9 433.3 472 440C470.1 446.7 468.4 455 467 460C465.6 465 465.4 464.7 463.6 470C461.9 475.3 458.5 486.4 456.5 492C454.5 497.6 453.9 499.1 451.5 503.8C449.1 508.5 446.2 515.5 442.3 520.4C438.4 525.3 432.3 530 428.4 533.3C424.5 536.6 422.1 538.4 419 540.3C415.9 542.1 413.8 543.3 410 544.4C406.2 545.5 402.2 546.6 396 546.7C389.8 546.8 380.7 546.8 373 545C365.3 543.2 355.8 539.3 350 535.7C344.2 532.1 342 528.3 338.5 523.5C335 518.7 331.7 512.8 329.2 506.9C326.7 501 324.8 494.5 323.7 488.4C322.6 482.2 322.9 474.7 322.8 470C322.7 465.3 322.4 464.6 323.3 460C324.2 455.4 326 448.4 328 442.7C330 437 332.6 431.4 335.3 426C338.1 420.6 340.4 416.7 344.5 410.4C348.6 404.1 356.4 393.9 360 388.3C363.6 382.7 364.6 379.8 366 377C367.4 374.2 368.1 372.4 368.5 371.5C369.2 371.2 365.6 370.9 372.9 369.8C380.1 368.7 405.5 365.8 412 365C414.9 360.4 424.9 345 429.6 337.5C434.3 330 437.4 323.6 440 320C442.6 316.4 444.2 316.7 445 316Z" fill="none" stroke="#1a1a1b" stroke-opacity=".6" stroke-width="3.4"/></g>
<path d="M445 316C448.2 316.8 458.2 317.9 464.5 321C470.8 324.1 479.9 332.4 483 334.7C484.4 335.6 489.2 338.6 491.3 340.3C493.4 342 494.6 342.9 495.5 344.9C496.4 346.9 496.4 349.5 496.4 352.3C496.4 355.1 496 358.3 495.5 361.5C495 364.7 494.2 367.8 493.2 371.6C492.2 375.4 490.9 379.8 489.5 384.5C488.1 389.2 486.7 394.1 484.9 400C483.1 405.9 480.6 413.3 478.5 420C476.4 426.7 473.9 433.3 472 440C470.1 446.7 468.4 455 467 460C465.6 465 465.4 464.7 463.6 470C461.9 475.3 458.5 486.4 456.5 492C454.5 497.6 453.9 499.1 451.5 503.8C449.1 508.5 446.2 515.5 442.3 520.4C438.4 525.3 432.3 530 428.4 533.3C424.5 536.6 422.1 538.4 419 540.3C415.9 542.1 413.8 543.3 410 544.4C406.2 545.5 402.2 546.6 396 546.7C389.8 546.8 380.7 546.8 373 545C365.3 543.2 355.8 539.3 350 535.7C344.2 532.1 342 528.3 338.5 523.5C335 518.7 331.7 512.8 329.2 506.9C326.7 501 324.8 494.5 323.7 488.4C322.6 482.2 322.9 474.7 322.8 470C322.7 465.3 322.4 464.6 323.3 460C324.2 455.4 326 448.4 328 442.7C330 437 332.6 431.4 335.3 426C338.1 420.6 340.4 416.7 344.5 410.4C348.6 404.1 356.4 393.9 360 388.3C363.6 382.7 364.6 379.8 366 377C367.4 374.2 368.1 372.4 368.5 371.5C369.2 371.2 365.6 370.9 372.9 369.8C380.1 368.7 405.5 365.8 412 365C414.9 360.4 424.9 345 429.6 337.5C434.3 330 437.4 323.6 440 320C442.6 316.4 444.2 316.7 445 316Z" fill="#2d2f32" stroke="#ff9488" stroke-width="1.3"/>
<path d="M432 345C427.5 351.7 415 370.2 405 385C395 399.8 380.2 422.2 372 434C363.8 445.8 359.3 448.3 356 456C352.7 463.7 351 472.2 352 480C353 487.8 356.8 497 362 503C367.2 509 375.3 514 383 516C390.7 518 400.5 517.7 408 515C415.5 512.3 423.2 506.2 428 500C432.8 493.8 435.7 485 437 478C438.3 471 433.5 467 436 458C438.5 449 446.7 435 452 424C457.3 413 463.7 402.3 468 392C472.3 381.7 477.7 370.7 478 362C478.3 353.3 474.7 344.5 470 340C465.3 335.5 456.3 334.2 450 335C443.7 335.8 435 343.3 432 345Z" fill="#585b5e"/>
<path d="M480 332.5C481.9 333.8 488.7 338.2 491.3 340.3C493.9 342.4 494.6 342.9 495.5 344.9C496.4 346.9 496.4 349.5 496.4 352.3C496.4 355.1 496 358.3 495.5 361.5C495 364.7 494.2 367.8 493.2 371.6C492.2 375.4 490.9 379.8 489.5 384.5C488.1 389.2 486.7 394.1 484.9 400C483.1 405.9 480.6 413.3 478.5 420C476.4 426.7 473.9 433.3 472 440C470.1 446.7 468.4 455 467 460C465.6 465 465.4 464.7 463.6 470C461.9 475.3 458.5 486.4 456.5 492C454.5 497.6 453.9 499.1 451.5 503.8C449.1 508.5 444.9 516.5 442.3 520.4C439.7 524.3 437.1 525.9 436 527C438 520.2 444.2 501.2 448 486C451.8 470.8 454.8 453 459 436C463.2 419 469.5 401.2 473 384C476.5 366.8 478.8 341.1 480 332.5Z" fill="#1f2022"/>
<path d="M453 324C455 324.5 461.7 325 465 327C468.3 329 471.1 332.4 472.6 336C474.1 339.6 474.4 343.4 474 348.4C473.6 353.4 471.6 359.6 470 366C468.4 372.4 466.8 381.5 464.5 387C462.2 392.5 459.5 396.3 456 399C452.5 401.7 447.7 402.7 443.5 403C439.3 403.3 434.2 402.3 431 401C427.8 399.7 425.8 397.8 424 395C422.2 392.2 420.5 387.8 420 384C419.5 380.2 419.7 377 421 372C422.3 367 425.3 360.1 428 354C430.7 347.9 434.2 340.1 437 335.5C439.8 330.9 442.3 328.5 445 326.6C447.7 324.7 451.7 324.4 453 324Z" fill="#fbfbfb" stroke="#161617" stroke-width="1.6"/>
<path d="M443.5 331.5C445.2 331.1 450.5 329.1 454 329C457.5 328.9 461.7 329 464.5 330.6C467.3 332.2 470.5 335 471 338.7C471.5 342.4 470.4 350.3 467.7 353C465 355.7 459.3 354.8 455 355C450.7 355.2 444.8 355.1 442 354C439.2 352.9 438.4 351.1 438 348.4C437.6 345.7 438.6 340.8 439.5 338C440.4 335.2 442.8 332.6 443.5 331.5Z" fill="#b4b6b8"/>
<path d="M432 366C435.5 366.2 447.7 365.9 453 367C458.3 368.1 462.6 368.7 463.7 372.6C464.8 376.5 462.2 386 459.7 390.3C457.1 394.6 453 397.3 448.4 398.4C443.8 399.5 435.8 398.7 432 396.8C428.2 394.9 426.8 391 425.8 387C424.8 383 424.8 376.1 425.8 372.6C426.8 369.1 431 367.1 432 366Z" fill="#b4b6b8"/>
<circle cx="394.8" cy="474" r="41.5" fill="#63666a"/>
<circle cx="394.8" cy="474" r="34.3" fill="#18191a" stroke="#8f9294" stroke-width="1.2"/>
<circle cx="394.8" cy="474" r="27.5" fill="none" stroke="#e6e6e7" stroke-width="8.5"/>
<path d="M367.4 476.4A27.5 27.5 0 0 1 373.1 457.1" fill="none" stroke="#1c1d1e" stroke-width="6.5"/>
<path d="M375 454.9A27.5 27.5 0 0 1 392.4 446.6" fill="none" stroke="#1c1d1e" stroke-width="6.5"/>
<path d="M411.7 452.3A27.5 27.5 0 0 1 422 470.2" fill="none" stroke="#3a3b3d" stroke-width="6.5"/>
<path d="M408.6 497.8A27.5 27.5 0 0 1 373.7 491.7" fill="none" stroke="#ffffff" stroke-width="8.5"/>
<circle cx="394.8" cy="474" r="21" fill="url(#gDisc)" stroke="#6d6e70" stroke-width="1"/>
<path d="M405.5 476L396.8 481L388.1 476L388.1 466L396.8 461L405.5 466Z" fill="#cfcfd0" stroke="#2a2b2d" stroke-width="2.2"/>
<path d="M401.6 473.8L396.8 476.5L392 473.8L392 468.2L396.8 465.5L401.6 468.2Z" fill="#f1f1f1" stroke="#9a9b9d" stroke-width=".8"/>
<path d="M840.7 61L846.5 55.3L854.6 50.7L877.6 38L882.2 40.3L881 46L868.4 65.7L865 66.8L843 63.4Z" fill="#9c1313"/>
<path d="M857 52L877.6 38L882.2 40.3L881 46L868.4 65.7L865 66.8L853 65Z" fill="#8a0f10"/>
<path d="M840.7 61L846.5 55.3L853.5 51.3Q856.5 54 853 59L850.5 64.5L843 63.4Z" fill="#fff"/>
<polyline points="300.4,35 565,35 565,162.5" fill="none" stroke="#8a8a8a" stroke-width="1.5"/>
<polyline points="202,139.6 370.3,139.6 370.3,284.8" fill="none" stroke="#8a8a8a" stroke-width="1.5"/>
<polyline points="7,332.9 191.3,332.9 191.3,441" fill="none" stroke="#8a8a8a" stroke-width="1.5"/>
<polyline points="860.4,365.4 464.5,365.4" fill="none" stroke="#8a8a8a" stroke-width="1.5"/>
<polyline points="894.3,486.6 581,486.6" fill="none" stroke="#8a8a8a" stroke-width="1.5"/>
<polyline points="687.9,717.5 484.6,717.5 484.6,495" fill="none" stroke="#8a8a8a" stroke-width="1.5"/>
<polyline points="22.9,623.8 180,623.8 180,522" fill="none" stroke="#8a8a8a" stroke-width="1.5"/>
<polyline points="483.3,860.8 255.2,860.8 255.2,688.3" fill="none" stroke="#8a8a8a" stroke-width="1.5"/>
<circle cx="300.4" cy="35" r="4.6" fill="#ef5359"/>
<circle cx="565" cy="162.5" r="16.6" fill="#fff" fill-opacity=".10" stroke="#e2505c" stroke-opacity=".9" stroke-width="1.5"/>
<circle cx="565" cy="162.5" r="9" fill="none" stroke="#e2505c" stroke-opacity=".9" stroke-width="1.5"/>
<circle cx="565" cy="162.5" r="4.4" fill="#f24a53"/>
<circle cx="202" cy="139.6" r="4.6" fill="#ef5359"/>
<circle cx="371" cy="284.8" r="16.6" fill="#fff" fill-opacity=".10" stroke="#e2505c" stroke-opacity=".9" stroke-width="1.5"/>
<circle cx="371" cy="284.8" r="9" fill="none" stroke="#e2505c" stroke-opacity=".9" stroke-width="1.5"/>
<circle cx="371" cy="284.8" r="4.4" fill="#f24a53"/>
<circle cx="7" cy="332.9" r="4.6" fill="#ef5359"/>
<circle cx="191.3" cy="441" r="16.6" fill="#fff" fill-opacity=".10" stroke="#e2505c" stroke-opacity=".9" stroke-width="1.5"/>
<circle cx="191.3" cy="441" r="9" fill="none" stroke="#e2505c" stroke-opacity=".9" stroke-width="1.5"/>
<circle cx="191.3" cy="441" r="4.4" fill="#f24a53"/>
<circle cx="860.4" cy="365" r="4.6" fill="#ef5359"/>
<circle cx="464.5" cy="365.6" r="16.6" fill="#fff" fill-opacity=".10" stroke="#e2505c" stroke-opacity=".9" stroke-width="1.5"/>
<circle cx="464.5" cy="365.6" r="9" fill="none" stroke="#e2505c" stroke-opacity=".9" stroke-width="1.5"/>
<circle cx="464.5" cy="365.6" r="4.4" fill="#f24a53"/>
<circle cx="894.3" cy="486.2" r="4.6" fill="#ef5359"/>
<circle cx="581" cy="486.6" r="16.6" fill="#fff" fill-opacity=".10" stroke="#e2505c" stroke-opacity=".9" stroke-width="1.5"/>
<circle cx="581" cy="486.6" r="9" fill="none" stroke="#e2505c" stroke-opacity=".9" stroke-width="1.5"/>
<circle cx="581" cy="486.6" r="4.4" fill="#f24a53"/>
<circle cx="687.9" cy="718" r="4.6" fill="#ef5359"/>
<circle cx="484.6" cy="495" r="16.6" fill="#fff" fill-opacity=".10" stroke="#e2505c" stroke-opacity=".9" stroke-width="1.5"/>
<circle cx="484.6" cy="495" r="9" fill="none" stroke="#e2505c" stroke-opacity=".9" stroke-width="1.5"/>
<circle cx="484.6" cy="495" r="4.4" fill="#f24a53"/>
<circle cx="22.9" cy="623.8" r="4.6" fill="#ef5359"/>
<circle cx="179.5" cy="522" r="16.6" fill="#fff" fill-opacity=".10" stroke="#e2505c" stroke-opacity=".9" stroke-width="1.5"/>
<circle cx="179.5" cy="522" r="9" fill="none" stroke="#e2505c" stroke-opacity=".9" stroke-width="1.5"/>
<circle cx="179.5" cy="522" r="4.4" fill="#f24a53"/>
<circle cx="483.3" cy="860.8" r="4.6" fill="#ef5359"/>
<circle cx="255.2" cy="688.3" r="16.6" fill="#fff" fill-opacity=".10" stroke="#e2505c" stroke-opacity=".9" stroke-width="1.5"/>
<circle cx="255.2" cy="688.3" r="9" fill="none" stroke="#e2505c" stroke-opacity=".9" stroke-width="1.5"/>
<circle cx="255.2" cy="688.3" r="4.4" fill="#f24a53"/>
<text x="311.5" y="22.7" font-size="27.8" textLength="247.4" lengthAdjust="spacingAndGlyphs">Soft rubber handle</text>
<text x="208.5" y="129.5" font-size="27.8" textLength="158.5" lengthAdjust="spacingAndGlyphs">Lock switch</text>
<text x="11.3" y="322" font-size="27.8" textLength="188.7" lengthAdjust="spacingAndGlyphs">Teflon coating</text>
<text x="550.3" y="353" font-size="27.8" textLength="307.3" lengthAdjust="spacingAndGlyphs">Open regulating switch</text>
<text x="622" y="475" font-size="27.8" textLength="269.2" lengthAdjust="spacingAndGlyphs">Shockproof cushion</text>
<text x="495.6" y="703.5" font-size="27.8" textLength="188.3" lengthAdjust="spacingAndGlyphs">Built-in spring</text>
<text x="32" y="591.4" font-size="27.8" textLength="126.8" lengthAdjust="spacingAndGlyphs">SK5 steel</text>
<text x="33.5" y="615.3" font-size="27.8" textLength="124" lengthAdjust="spacingAndGlyphs">tool head</text>
<text x="268.2" y="790.8" font-size="27.6" textLength="213.6" lengthAdjust="spacing">Stainless steel</text>
<text x="268.8" y="821" font-size="27.6" textLength="217.7" lengthAdjust="spacing">titanium-plated</text>
<text x="268.8" y="850.4" font-size="27.6" textLength="181.6" lengthAdjust="spacing">bottom knife</text>
<text class="logo" transform="translate(169.5,487) rotate(-13.3)" font-size="22.5" textLength="86.5" lengthAdjust="spacing" stroke="#fff" stroke-width=".7">Mijova</text>
</svg>
</body></html>
